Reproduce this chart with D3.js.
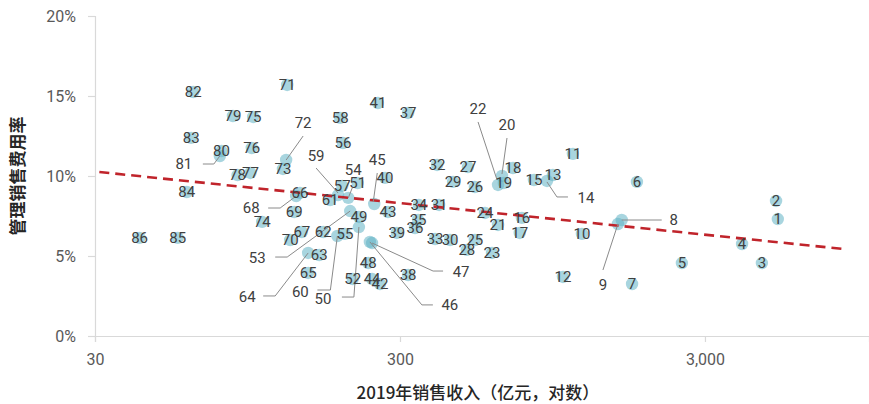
<!DOCTYPE html>
<html>
<head>
<meta charset="utf-8">
<script src="https://cdn.jsdelivr.net/npm/d3@7/dist/d3.min.js"></script>
<style>
  html, body { margin: 0; padding: 0; background: #fff; }
  svg { display: block; }
</style>
</head>
<body>
<svg id="chart" width="869" height="404"></svg>
<script>
// Company ids, 2019 revenue (亿元) and SG&A expense ratio (%)
const ids = [
  1, 2, 3, 4, 5, 6, 7, 8, 9, 10,
  11, 12, 13, 14, 15, 16, 17, 18, 19, 20,
  21, 22, 23, 24, 25, 26, 27, 28, 29, 30,
  31, 32, 33, 34, 35, 36, 37, 38, 39, 40,
  41, 42, 43, 44, 45, 46, 47, 48, 49, 50,
  51, 52, 53, 54, 55, 56, 57, 58, 59, 60,
  61, 62, 63, 64, 65, 66, 67, 68, 69, 70,
  71, 72, 73, 74, 75, 76, 77, 78, 79, 80,
  81, 82, 83, 84, 85, 86
];
const revenue = [
  5200, 5130, 4610, 3970, 2520, 1795, 1730, 1600, 1555, 1185,
  1107, 1027, 952, 910, 825, 753, 741, 704, 657, 648,
  629, 629, 601, 570, 528, 528, 501, 497, 448, 438,
  403, 397, 391, 346, 344, 336, 319, 319, 293, 268,
  254, 258, 274, 243, 247, 239, 243, 236, 220, 220,
  218, 210, 206, 203, 198, 195, 194, 191, 188, 187,
  177, 168, 163, 150, 150, 141, 143, 137, 135, 131,
  128, 127, 124, 106, 99, 98, 97, 88, 85, 78,
  77, 63, 62, 60, 56, 42
];
const sgaRate = [
  7.31, 8.44, 4.56, 5.75, 4.56, 9.63, 3.25, 7.25, 7.0, 6.38,
  11.38, 3.69, 10.06, 9.69, 9.75, 7.38, 6.44, 10.5, 9.56, 10.0,
  6.94, 9.44, 5.19, 7.69, 6.0, 9.31, 10.56, 5.38, 9.63, 6.0,
  8.19, 10.69, 6.06, 8.19, 7.25, 6.75, 13.94, 3.81, 6.44, 9.88,
  14.56, 3.25, 7.75, 3.56, 8.25, 5.88, 5.81, 4.56, 7.44, 6.81,
  9.56, 3.56, 7.81, 8.63, 6.38, 12.06, 9.38, 13.63, 8.81, 6.25,
  8.5, 6.5, 5.06, 5.19, 3.94, 8.94, 6.5, 8.75, 7.75, 6.0,
  15.69, 11.0, 10.44, 7.13, 13.69, 11.75, 10.19, 10.06, 13.75, 11.56,
  11.25, 15.25, 12.38, 9.0, 6.13, 6.13
];

// Logarithmic trend line, end points
const trendRevenue = [31, 8500];
const trendRate = [10.25, 5.44];

// Axis ticks
const xTicks = [30, 300, 3000];
const yTicks = [0, 5, 10, 15, 20];

const xTitle = "2019年销售收入（亿元，对数）";
const yTitle = "管理销售费用率";

// Labels moved off their markers: label offset and leader polyline (px, relative to the marker)
const leaders = {
  8:  { label: [52, 0],   path: [[0, 0], [40, 0]] },
  9:  { label: [-15, 61], path: [[0, 0], [-15, 46]] },
  14: { label: [39, 17],  path: [[0, 1], [10, 16], [21, 16]] },
  20: { label: [5, -51],  path: [[0, -2], [5, -38]] },
  22: { label: [-20, -76], path: [[-1, -5], [-20, -63]] },
  45: { label: [3, -44],  path: [[-1, -2], [3, -31]] },
  46: { label: [80, 63],  path: [[0, 0], [52, 63], [63, 63]] },
  47: { label: [89, 29],  path: [[0, 0], [61, 28], [71, 28]] },
  50: { label: [-36, 72], path: [[0, 0], [-5, 70], [-17, 70]] },
  53: { label: [-93, 47], path: [[0, 0], [-63, 46], [-75, 46]] },
  54: { label: [5, -28],  path: [[0, 0], [4, -10]] },
  59: { label: [-22, -39], path: [[0, -2], [-22, -27]] },
  60: { label: [-37, 56], path: [[0, 0], [-7, 54], [-20, 54]] },
  64: { label: [-61, 44], path: [[0, 0], [-33, 43], [-45, 43]] },
  68: { label: [-45, 12], path: [[0, 0], [-16, 12], [-28, 12]] },
  72: { label: [17, -37], path: [[0, 0], [17, -24]] },
  81: { label: [-36, 8],  path: [[0, 0], [-6, 8], [-17, 8]] }
};

const points = ids.map((id, i) => ({ id, rev: revenue[i], rate: sgaRate[i] }));

const svg = d3.select("#chart");
const plot = { left: 95, right: 869, top: 16, bottom: 336 };

const x = d3.scaleLog()
  .domain([30, 10350])
  .range([plot.left, plot.right]);
const y = d3.scaleLinear()
  .domain([0, 20])
  .range([plot.bottom, plot.top]);

const axisColor = "#d9d9d9";
const tickText = "#595959";
const numFont = "Roboto, 'Noto Sans', sans-serif";
const cjkFont = "'Noto Sans CJK SC', 'Noto Sans', sans-serif";

// Y axis
const yAxis = svg.append("g")
  .attr("transform", `translate(${plot.left},0)`)
  .call(d3.axisLeft(y).tickValues(yTicks).tickSize(7).tickPadding(12).tickFormat(d => d + "%"));
yAxis.select(".domain").attr("stroke", axisColor).attr("stroke-width", 1.2);
yAxis.selectAll(".tick line").attr("stroke", axisColor).attr("stroke-width", 1.2);
yAxis.selectAll(".tick text")
  .attr("fill", tickText)
  .style("font-family", numFont)
  .style("font-size", "16px");

// X axis
const xAxis = svg.append("g")
  .attr("transform", `translate(0,${plot.bottom})`)
  .call(d3.axisBottom(x).tickValues(xTicks).tickSize(6).tickPadding(12).tickFormat(d3.format(",")));
xAxis.select(".domain").attr("stroke", axisColor).attr("stroke-width", 1.2);
xAxis.selectAll(".tick line").attr("stroke", axisColor).attr("stroke-width", 1.2);
xAxis.selectAll(".tick text")
  .attr("fill", tickText)
  .style("font-family", numFont)
  .style("font-size", "16px");

// Axis titles
svg.append("text")
  .attr("x", 478).attr("y", 399)
  .attr("text-anchor", "middle")
  .attr("fill", "#262626")
  .style("font-family", cjkFont)
  .style("font-size", "17px")
  .style("font-weight", 500)
  .text(xTitle);

svg.append("text")
  .attr("transform", "translate(24,176) rotate(-90)")
  .attr("text-anchor", "middle")
  .attr("fill", "#262626")
  .style("font-family", cjkFont)
  .style("font-size", "17px")
  .style("font-weight", 700)
  .text(yTitle);

// Markers
svg.append("g")
  .selectAll("circle")
  .data(points)
  .join("circle")
  .attr("cx", d => x(d.rev))
  .attr("cy", d => y(d.rate))
  .attr("r", 6.2)
  .attr("fill", "rgb(96,178,196)")
  .attr("fill-opacity", 0.55);

// Trend line
const trend = trendRevenue.map((r, i) => [x(r), y(trendRate[i])]);
svg.append("path")
  .attr("d", d3.line()(trend))
  .attr("fill", "none")
  .attr("stroke", "#c0242b")
  .attr("stroke-width", 2.6)
  .attr("stroke-dasharray", "10,6");

// Leader lines
svg.append("g")
  .selectAll("path")
  .data(points.filter(d => leaders[d.id]))
  .join("path")
  .attr("d", d => {
    const px = x(d.rev), py = y(d.rate);
    return d3.line()(leaders[d.id].path.map(p => [px + p[0], py + p[1]]));
  })
  .attr("fill", "none")
  .attr("stroke", "#8a8a8a")
  .attr("stroke-width", 1);

// Data labels
svg.append("g")
  .selectAll("text")
  .data(points)
  .join("text")
  .attr("x", d => x(d.rev) + (leaders[d.id] ? leaders[d.id].label[0] : 0))
  .attr("y", d => y(d.rate) + (leaders[d.id] ? leaders[d.id].label[1] : 0))
  .attr("text-anchor", "middle")
  .attr("dominant-baseline", "central")
  .attr("fill", "#404040")
  .style("font-family", numFont)
  .style("font-size", "15px")
  .text(d => d.id);
</script>
</body>
</html>
